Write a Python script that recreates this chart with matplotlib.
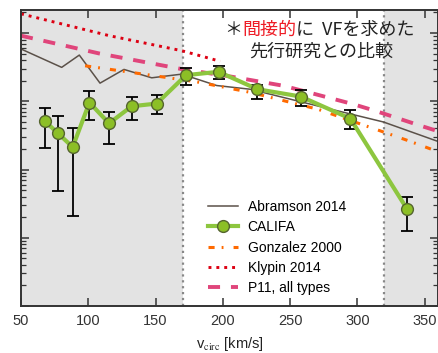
import matplotlib
matplotlib.use("Agg")
import matplotlib.pyplot as plt
from matplotlib.ticker import NullFormatter, MultipleLocator
import numpy as np

# values, y given as log10
califa_v = [67.8, 77.5, 88.4, 100.8, 115.4, 132.2, 150.8, 172.6, 196.8, 225.6, 257.8, 294.7, 336.8]
califa_log = [-3.294, -3.47, -3.672, -3.019, -3.324, -3.074, -3.034, -2.618, -2.569, -2.824, -2.931, -3.254, -4.578]
califa_hi = [-3.093, -3.216, -3.387, -2.849, -3.152, -2.941, -2.912, -2.519, -2.49, -2.765, -2.834, -3.132, -4.401]
califa_lo = [-3.691, -4.309, -4.687, -3.279, -3.622, -3.279, -3.181, -2.76, -2.676, -2.96, -3.069, -3.412, -4.897]

abramson_v = [50, 80.2, 93.3, 108.7, 126.5, 147.1, 169.4, 195.4, 220.2, 274.7, 319.3, 360]
abramson_log = [-2.235, -2.504, -2.324, -2.735, -2.534, -2.657, -2.603, -2.77, -2.824, -3.09, -3.304, -3.59]

gonzalez_v = [97.6, 140.9, 180.5, 220.9, 270.7, 317.8, 336.6, 360]
gonzalez_log = [-2.481, -2.603, -2.716, -2.872, -3.118, -3.44, -3.57, -3.74]

klypin_v = [50, 115.6, 169.4, 198]
klypin_log = [-1.72, -2.04, -2.26, -2.415]

p11_v = [50, 108, 169.4, 206.3, 245.4, 297, 313.6, 346, 360]
p11_log = [-2.04, -2.30, -2.529, -2.64, -2.775, -3.044, -3.143, -3.353, -3.44]

plt.rcParams['font.family'] = ['Liberation Sans', 'DejaVu Sans']
plt.rcParams['mathtext.fontset'] = 'stix'

fig = plt.figure(figsize=(4.38, 3.53), dpi=100)
ax = fig.add_axes([0.048, 0.133, 0.9525, 0.839])

# shaded ranges + dotted limits
ax.axvspan(50, 170, color='#e3e3e3', zorder=0, lw=0)
ax.axvspan(320, 360, color='#e3e3e3', zorder=0, lw=0)
ax.axvline(170, color='#888888', ls=':', lw=1.6, zorder=1)
ax.axvline(320, color='#888888', ls=':', lw=1.6, zorder=1)

h_ab, = ax.plot(abramson_v, 10**np.array(abramson_log), color='#5b5149', lw=1.1,
                label='Abramson 2014', zorder=2)
h_go, = ax.plot(gonzalez_v, 10**np.array(gonzalez_log), color='#ff6a00', lw=2.2,
                dashes=[2.0, 2.3, 0.6, 3.3], label='Gonzalez 2000', zorder=2)
h_kl, = ax.plot(klypin_v, 10**np.array(klypin_log), color='#dd0012', lw=2.1,
                dashes=[1.0, 1.7], label='Klypin 2014', zorder=2)
h_p11, = ax.plot(p11_v, 10**np.array(p11_log), color='#e0457b', lw=2.8,
                 dashes=[3.1, 2.8], label='P11, all types', zorder=2)

y = 10**np.array(califa_log)
yerr = [y - 10**np.array(califa_lo), 10**np.array(califa_hi) - y]
ax.errorbar(califa_v, y, yerr=yerr, fmt='none', ecolor='black', elinewidth=1.3,
            capsize=4.5, capthick=1.3, zorder=4)
h_ca, = ax.plot(califa_v, y, '-o', color='#8dc63f', lw=3, mfc='#8cbf26', mec='#55652e',
                ms=8.5, mew=1, label='CALIFA', zorder=5)

ax.set_yscale('log')
ax.set_xlim(50, 360)
ax.set_ylim(1e-6, 10**-1.662)
ax.xaxis.set_major_locator(MultipleLocator(50))
ax.yaxis.set_major_formatter(NullFormatter())
ax.yaxis.set_minor_formatter(NullFormatter())
ax.tick_params(which='both', direction='in', top=True, right=True, colors='#333333')
ax.tick_params(which='major', length=6, width=1.1, labelsize=10.5, pad=6)
ax.tick_params(which='minor', length=3.5, width=0.9)
for s in ax.spines.values():
    s.set_color('#333333')
    s.set_linewidth(1.4)

ax.set_xlabel(r'v$_{\rm circ}$ [km/s]', fontsize=10.5, labelpad=5, color='#222222')

ax.legend(handles=[h_ab, h_ca, h_go, h_kl, h_p11], loc='upper left',
          bbox_to_anchor=(0.448, 0.358), frameon=False, fontsize=10,
          handlelength=2.2, handletextpad=0.65, labelspacing=0.45,
          borderpad=0, borderaxespad=0, numpoints=1)

# note in the upper right
jp = ['Noto Sans CJK JP', 'DejaVu Sans']
t1 = ax.text(0.4866, 0.932, '＊', transform=ax.transAxes, fontsize=13, family=jp,
             va='center', ha='left', color='#222222')
t2 = ax.annotate('間接的', xycoords=t1, xy=(1, 0), va='bottom', ha='left',
                 fontsize=13, family=jp, color='#ee1c25')
t3 = ax.annotate('に  VFを求めた', xycoords=t2, xy=(1, 0), va='bottom', ha='left',
                 fontsize=13, family=jp, color='#222222')
ax.text(0.719, 0.858, '先行研究との比較', transform=ax.transAxes, fontsize=13,
        family=jp, ha='center', va='center', color='#222222')

fig.savefig('out.png', dpi=100)
